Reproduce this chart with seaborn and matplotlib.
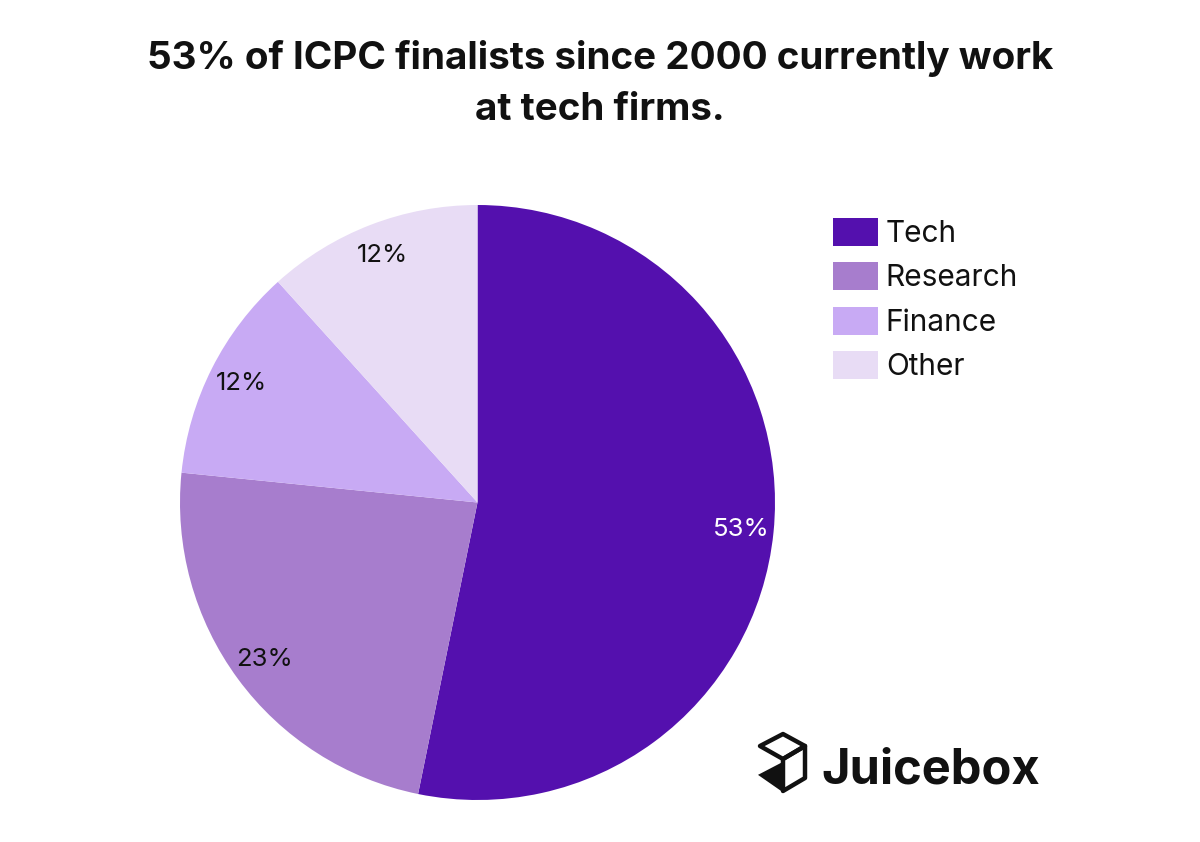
import matplotlib
matplotlib.use("Agg")
import matplotlib.pyplot as plt
import seaborn as sns
from matplotlib.patches import Polygon

categories = ["Tech", "Research", "Finance", "Other"]
shares = [53.2, 23.4, 11.7, 11.7]
colors = ["#5410AE", "#A77DCD", "#C8AAF4", "#E8DCF5"]
label_colors = ["white", "#111111", "#111111", "#111111"]
title_text = "53% of ICPC finalists since 2000 currently work\nat tech firms."
brand = "Juicebox"

sns.set_theme(style="white")
plt.rcParams["font.family"] = ["Inter", "DejaVu Sans"]

W, H = 1200, 842
fig = plt.figure(figsize=(12, 8.42), dpi=100)
fig.patch.set_facecolor("white")

cx, cy, r = 477.5, 502.5, 297.5
ax = fig.add_axes([(cx - r) / W, (H - cy - r) / H, 2 * r / W, 2 * r / H])
wedges, texts, autotexts = ax.pie(
    shares, colors=colors, startangle=90, counterclock=False,
    autopct=lambda p: f"{p:.0f}%", pctdistance=0.89, radius=1,
    wedgeprops=dict(linewidth=0),
    textprops=dict(fontsize=18.5))
for t, c in zip(autotexts, label_colors):
    t.set_color(c)
ax.set_xlim(-1, 1)
ax.set_ylim(-1, 1)
ax.set_aspect("equal")
ax.axis("off")

fig.text(600 / W, 1 - 84 / H, title_text, ha="center", va="center",
         fontsize=27.8, fontweight="bold", color="#111111", linespacing=1.53)

leg = fig.legend(wedges, categories, loc="upper left",
                 bbox_to_anchor=(833 / W, 1 - 218 / H), bbox_transform=fig.transFigure,
                 frameon=False, fontsize=21.5, handlelength=1.5, handleheight=1.07,
                 handletextpad=0.27, labelspacing=0.47, borderpad=0, borderaxespad=0)
for t in leg.get_texts():
    t.set_color("#111111")

# brand mark
def fp(x, y):
    return (x / W, 1 - y / H)

top_face = [fp(783, 734), fp(805, 746), fp(783, 759), fp(760, 746)]
right_face = [fp(805, 746), fp(805, 778), fp(783, 791), fp(783, 759)]
tri = [fp(760, 775), fp(783, 763), fp(783, 791)]
for pts in (top_face, right_face):
    fig.patches.append(Polygon(pts, closed=True, fill=False, edgecolor="#111111",
                               linewidth=3.2, joinstyle="round", transform=fig.transFigure))
fig.patches.append(Polygon(tri, closed=True, facecolor="#111111", edgecolor="#111111",
                           linewidth=1.5, transform=fig.transFigure))
fig.text(821 / W, 1 - 783 / H, brand, ha="left", va="baseline",
         fontsize=35.2, fontweight="bold", color="#111111")

fig.savefig("out.png", dpi=100, facecolor="white")
